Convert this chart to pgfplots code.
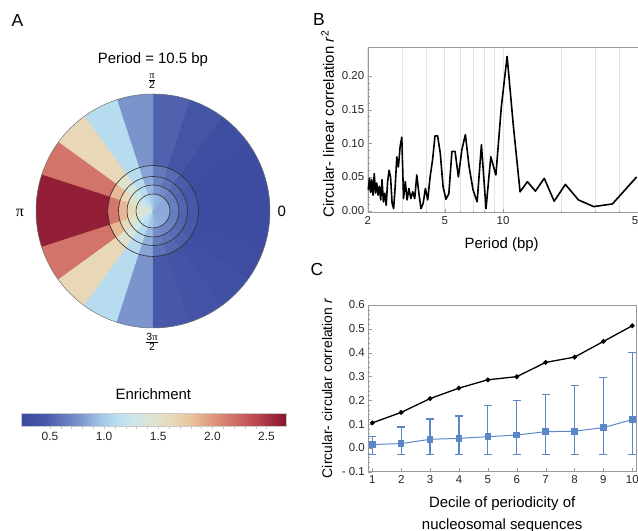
\documentclass[border=0pt]{standalone}
\usepackage{fontspec}
\setmainfont{Liberation Sans}
\newfontfamily\serif{Liberation Serif}
\usepackage{pgfplots}
\pgfplotsset{compat=1.18}

\definecolor{framegray}{gray}{0.6}
\definecolor{cblue}{RGB}{91,135,198}

\pgfplotsset{
  colormap={enrich}{rgb255(23pt)=(58,73,158) rgb255(45pt)=(72,88,168)
    rgb255(78pt)=(125,150,205) rgb255(96pt)=(160,196,230)
    rgb255(112pt)=(186,222,240) rgb255(127pt)=(204,230,234)
    rgb255(142pt)=(221,229,210) rgb255(164pt)=(232,216,184)
    rgb255(182pt)=(232,190,152) rgb255(198pt)=(226,154,128)
    rgb255(219pt)=(208,112,104) rgb255(238pt)=(190,74,82)
    rgb255(268pt)=(135,20,46)},
  mma/.style={
    scale only axis, anchor=south west,
    axis line style={framegray}, tick style={framegray},
    tick pos=left, major tick length=4bp, minor tick length=2bp,
    tick label style={font=\fontsize{11.5}{12}\selectfont, text=black!85},
    label style={font=\fontsize{15}{16}\selectfont},
  },
}

\begin{document}
\begin{tikzpicture}[x=1bp, y=1bp]

% panel A: polar enrichment, 20 sectors of 18 deg, 5 rings
\begin{axis}[
  at={(153bp,320bp)}, anchor=center,
  x=1bp, y=1bp, xmin=-150, xmax=150, ymin=-150, ymax=150,
  hide axis, colormap name=enrich,
  point meta min=0.23, point meta max=2.68,
]
\addplot[surf, shader=flat corner, mesh/rows=6, mesh/cols=21,
  mesh/ordering=x varies, data cs=polar, point meta=explicit]
  table[x=th, y=r, meta=m, row sep=\\] {
th r m\\
0 0 0.85\\ 18 0 0.85\\ 36 0 0.86\\ 54 0 0.89\\ 72 0 0.92\\ 90 0 1.00\\ 108 0 1.10\\
126 0 1.21\\ 144 0 1.33\\ 162 0 1.42\\ 180 0 1.42\\ 198 0 1.33\\ 216 0 1.21\\
234 0 1.10\\ 252 0 1.00\\ 270 0 0.91\\ 288 0 0.88\\ 306 0 0.87\\ 324 0 0.86\\
342 0 0.85\\ 360 0 0.85\\
0 17 0.65\\ 18 17 0.64\\ 36 17 0.66\\ 54 17 0.72\\ 72 17 0.77\\ 90 17 0.92\\ 108 17 1.10\\
126 17 1.28\\ 144 17 1.45\\ 162 17 1.60\\ 180 17 1.60\\ 198 17 1.45\\ 216 17 1.28\\
234 17 1.10\\ 252 17 0.92\\ 270 17 0.74\\ 288 17 0.70\\ 306 17 0.68\\ 324 17 0.65\\
342 17 0.64\\ 360 17 0.65\\
0 26 0.52\\ 18 26 0.51\\ 36 26 0.53\\ 54 26 0.60\\ 72 26 0.67\\ 90 26 0.87\\ 108 26 1.11\\
126 26 1.37\\ 144 26 1.62\\ 162 26 1.85\\ 180 26 1.85\\ 198 26 1.62\\ 216 26 1.37\\
234 26 1.11\\ 252 26 0.87\\ 270 26 0.64\\ 288 26 0.59\\ 306 26 0.55\\ 324 26 0.53\\
342 26 0.51\\ 360 26 0.52\\
0 34.5 0.45\\ 18 34.5 0.44\\ 36 34.5 0.47\\ 54 34.5 0.55\\ 72 34.5 0.63\\ 90 34.5 0.84\\ 108 34.5 1.11\\
126 34.5 1.47\\ 144 34.5 1.84\\ 162 34.5 2.15\\ 180 34.5 2.15\\ 198 34.5 1.84\\ 216 34.5 1.47\\
234 34.5 1.11\\ 252 34.5 0.84\\ 270 34.5 0.59\\ 288 34.5 0.53\\ 306 34.5 0.49\\ 324 34.5 0.46\\
342 34.5 0.44\\ 360 34.5 0.45\\
0 45.5 0.28\\ 18 45.5 0.27\\ 36 45.5 0.30\\ 54 45.5 0.40\\ 72 45.5 0.50\\ 90 45.5 0.77\\ 108 45.5 1.11\\
126 45.5 1.64\\ 144 45.5 2.17\\ 162 45.5 2.62\\ 180 45.5 2.62\\ 198 45.5 2.17\\ 216 45.5 1.64\\
234 45.5 1.11\\ 252 45.5 0.77\\ 270 45.5 0.45\\ 288 45.5 0.38\\ 306 45.5 0.33\\ 324 45.5 0.29\\
342 45.5 0.27\\ 360 45.5 0.28\\
0 118.6 0.28\\ 18 118.6 0.27\\ 36 118.6 0.30\\ 54 118.6 0.40\\ 72 118.6 0.50\\ 90 118.6 0.77\\ 108 118.6 1.11\\
126 118.6 1.64\\ 144 118.6 2.17\\ 162 118.6 2.62\\ 180 118.6 2.62\\ 198 118.6 2.17\\ 216 118.6 1.64\\
234 118.6 1.11\\ 252 118.6 0.77\\ 270 118.6 0.45\\ 288 118.6 0.38\\ 306 118.6 0.33\\ 324 118.6 0.29\\
342 118.6 0.27\\ 360 118.6 0.28\\
};
% trim the chord corners of the outer ring
\fill[white, even odd rule] (axis cs:0,0) circle[radius=124] (axis cs:0,0) circle[radius=117.2];
\draw[black!55, line width=0.5bp] (axis cs:0,0) circle[radius=117];
\draw[black!80, line width=0.6bp] (axis cs:0,0) circle[radius=17];
\draw[black!80, line width=0.6bp] (axis cs:0,0) circle[radius=26];
\draw[black!80, line width=0.6bp] (axis cs:0,0) circle[radius=34.5];
\draw[black!80, line width=0.6bp] (axis cs:0,0) circle[radius=45.5];
\end{axis}

\node[font=\fontsize{15}{16}\selectfont] at (153,471) {Period = 10.5 bp};
\node[font=\fontsize{10.5}{11}\selectfont, inner sep=0pt] at (152,450) {$\frac{\mbox{\serif π}}{\mbox{2}}$};
\node[font=\fontsize{10.5}{11}\selectfont, inner sep=0pt] at (152,189) {$\frac{\mbox{3\serif π}}{\mbox{2}}$};
\node[font=\fontsize{15}{16}\selectfont] at (281.7,320) {0};
\node[font=\serif\fontsize{16}{16}\selectfont] at (20,318.5) {π};

% colour scale
\begin{axis}[
  at={(20.7bp,105bp)}, anchor=south west, scale only axis,
  width=265.3bp, height=13bp,
  xmin=0.23, xmax=2.68, ymin=0, ymax=1, ytick=\empty,
  xtick={0.5,1,1.5,2,2.5}, xticklabels={0.5,1.0,1.5,2.0,2.5},
  minor x tick num=4, tick align=outside, xtick pos=bottom,
  major tick length=3bp, minor tick length=3bp,
  tick style={gray!45}, axis line style={gray!40},
  tick label style={font=\fontsize{12}{12}\selectfont, text=black!85},
  title={Enrichment},
  title style={font=\fontsize{15}{15}\selectfont, at={(0.5,1)}, anchor=base, yshift=8bp},
  point meta min=0.23, point meta max=2.68, colormap name=enrich, axis on top,
]
\addplot[surf, shader=interp, mesh/rows=2, mesh/cols=13, point meta=x] coordinates {
(0.23,0) (0.45,0) (0.78,0) (0.96,0) (1.12,0) (1.27,0) (1.42,0) (1.64,0) (1.82,0) (1.98,0) (2.19,0) (2.38,0) (2.68,0)
(0.23,1) (0.45,1) (0.78,1) (0.96,1) (1.12,1) (1.27,1) (1.42,1) (1.64,1) (1.82,1) (1.98,1) (2.19,1) (2.38,1) (2.68,1)
};
\end{axis}

% panel B
\begin{axis}[mma,
  at={(367.7bp,318.3bp)}, width=270.6bp, height=165bp,
  xmode=log, xmin=2, xmax=50, ymin=-0.003, ymax=0.242,
  xtick={2,5,10,50}, xticklabels={2,5,10,50},
  minor xtick={3,4,6,7,8,9,20,30,40},
  xmajorgrids, xminorgrids, grid style={gray!22, line width=0.5bp},
  ytick={0,0.05,0.1,0.15,0.2}, yticklabels={0.00,0.05,0.10,0.15,0.20},
  minor y tick num=4,
  xlabel={Period (bp)},
  ylabel={Circular- linear correlation \textit{r}\textsuperscript{2}},
  xlabel style={at={(axis description cs:0.495,-0.194)}, anchor=center},
  ylabel style={at={(axis description cs:-0.148,0.537)}, anchor=center},
]
\addplot[black, line width=1.6bp, line join=round] table[row sep=\\] {
p v\\
2.0137 0.031\\ 2.0417 0.048\\ 2.0704 0.027\\ 2.1 0.046\\ 2.1304 0.023\\ 2.1618 0.055\\
2.194 0.026\\ 2.2273 0.041\\ 2.2615 0.023\\ 2.2969 0.036\\ 2.3333 0.016\\ 2.371 0.046\\
2.4098 0.013\\ 2.45 0.026\\ 2.4915 0.008\\ 2.5345 0.043\\ 2.5789 0.060\\ 2.625 0.050\\
2.6727 0.011\\ 2.7222 0.003\\ 2.7736 0.036\\ 2.827 0.080\\ 2.882 0.065\\ 2.94 0.095\\
3.0 0.109\\ 3.0625 0.018\\ 3.1277 0.043\\ 3.1957 0.016\\ 3.2667 0.033\\ 3.341 0.018\\
3.4186 0.028\\ 3.5 0.018\\ 3.585 0.053\\ 3.675 0.026\\ 3.769 0.003\\ 3.8684 0.011\\
3.973 0.033\\ 4.0833 0.016\\ 4.2 0.050\\ 4.3235 0.075\\ 4.4545 0.111\\ 4.594 0.111\\
4.742 0.085\\ 4.9 0.036\\ 5.069 0.017\\ 5.25 0.025\\ 5.4444 0.088\\ 5.6538 0.088\\
5.88 0.050\\ 6.125 0.090\\ 6.3913 0.113\\ 6.6818 0.065\\ 7.0 0.031\\ 7.35 0.013\\
7.7368 0.098\\ 8.1667 0.003\\ 8.647 0.080\\ 9.1875 0.053\\ 9.8 0.154\\ 10.5 0.229\\
11.308 0.126\\ 12.25 0.028\\ 13.364 0.043\\ 14.7 0.029\\ 16.333 0.048\\ 18.375 0.014\\
21.0 0.039\\ 24.5 0.016\\ 29.4 0.006\\ 36.75 0.010\\ 49.0 0.050\\
};
\end{axis}

% panel C
\begin{axis}[mma,
  at={(368.3bp,59.3bp)}, width=267.7bp, height=166.7bp,
  xmin=0.862, xmax=10.128, ymin=-0.1, ymax=0.6,
  xtick={1,2,3,4,5,6,7,8,9,10},
  xticklabels={1,2,3,4,5,6,7,8,9,10},
  ytick={-0.1,0,0.1,0.2,0.3,0.4,0.5,0.6},
  yticklabels={- 0.1,0.0,0.1,0.2,0.3,0.4,0.5,0.6},
  minor y tick num=4,
  xlabel={Decile of periodicity of\\nucleosomal sequences},
  ylabel={Circular- circular correlation \textit{r}},
  xlabel style={at={(axis description cs:0.5,-0.257)}, anchor=center,
    align=center, font=\fontsize{15}{22}\selectfont},
  ylabel style={at={(axis description cs:-0.154,0.5)}, anchor=center,
    font=\fontsize{14}{15}\selectfont},
]
\addplot[black, line width=1.3bp, mark=*, mark size=1.7bp] table[row sep=\\] {
x y\\ 1 0.105\\ 2 0.149\\ 3 0.207\\ 4 0.251\\ 5 0.286\\ 6 0.299\\ 7 0.359\\ 8 0.381\\ 9 0.447\\ 10 0.513\\
};
\addplot[cblue, line width=1bp, mark=square*, mark size=2.8bp,
  error bars/.cd, y dir=both, y explicit,
  error bar style={line width=1.2bp, cblue},
  error mark=-,
  error mark options={cblue, line width=1.2bp, mark size=4bp, rotate=90}]
  table[x=x, y=y, y error plus=ep, y error minus=em, row sep=\\] {
x y ep em\\
1 0.014 0.035 0.042\\ 2 0.018 0.070 0.046\\ 3 0.036 0.085 0.064\\ 4 0.040 0.094 0.068\\
5 0.047 0.130 0.075\\ 6 0.054 0.146 0.082\\ 7 0.068 0.157 0.096\\ 8 0.070 0.191 0.098\\
9 0.085 0.210 0.113\\ 10 0.119 0.282 0.147\\
};
\end{axis}

\node[font=\fontsize{17.5}{18}\selectfont] at (17.5,510) {A};
\node[font=\fontsize{17.5}{18}\selectfont] at (319,511) {B};
\node[font=\fontsize{17.5}{18}\selectfont] at (317,261) {C};

\pgfresetboundingbox
\path[use as bounding box] (0,0) rectangle (638,531);
\end{tikzpicture}
\end{document}
